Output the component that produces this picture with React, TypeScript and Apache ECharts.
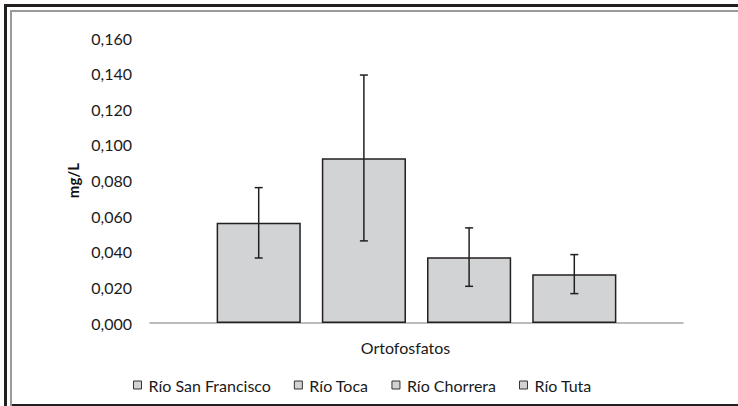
import React, { useEffect, useRef } from "react";
import * as echarts from "echarts";

const categories = ["Ortofosfatos"];
const seriesNames = ["Río San Francisco", "Río Toca", "Río Chorrera", "Río Tuta"];
const means = [0.0563, 0.0925, 0.0369, 0.0274];
const errLow = [0.0365, 0.0461, 0.0206, 0.0165];
const errHigh = [0.076, 0.1392, 0.0534, 0.0384];
const yTicks = { min: 0, max: 0.16, interval: 0.02 };

const FONT = "Lato";
const BAR_GAP = 0.25;
const CAT_GAP = 0.25;

export default function App() {
  const ref = useRef<HTMLDivElement>(null);
  useEffect(() => {
    if (!ref.current) return;
    const chart = echarts.init(ref.current, null, { renderer: "svg" });
    const n = seriesNames.length;
    const barSeries = seriesNames.map((name, i) => ({
      name,
      type: "bar",
      data: [means[i]],
      barGap: `${BAR_GAP * 100}%`,
      barCategoryGap: `${CAT_GAP * 100}%`,
      itemStyle: { color: "#d1d3d4", borderColor: "#231f20", borderWidth: 1.5 },
    }));
    const errData = seriesNames.map((_, i) => [0, errLow[i], errHigh[i], i]);
    const option: any = {
      animation: false,
      textStyle: { fontFamily: FONT },
      grid: { left: 150, right: 55, top: 38, bottom: 83 },
      legend: {
        data: seriesNames,
        left: 128,
        top: 372,
        icon: "rect",
        itemWidth: 8,
        itemHeight: 8,
        itemGap: 23,
        itemStyle: { color: "#d1d3d4", borderColor: "#333", borderWidth: 1 },
        textStyle: { fontFamily: FONT, fontSize: 16, color: "#1a1a1a", padding: [0, 0, 0, 2] },
      },
      xAxis: {
        type: "category",
        data: categories,
        axisLine: { lineStyle: { color: "#a6a6a6", width: 1.5 } },
        axisTick: { show: false },
        axisLabel: { fontFamily: FONT, fontSize: 16, color: "#1a1a1a", margin: 16, padding: [0, 22, 0, 0] },
      },
      yAxis: {
        type: "value",
        min: yTicks.min,
        max: yTicks.max,
        interval: yTicks.interval,
        name: "mg/L",
        nameLocation: "middle",
        nameGap: 67,
        nameTextStyle: { fontFamily: FONT, fontSize: 15, fontWeight: "bold", color: "#111" },
        axisLine: { show: false },
        axisTick: { show: false },
        splitLine: { show: false },
        axisLabel: {
          fontFamily: FONT,
          fontSize: 16,
          color: "#1a1a1a",
          margin: 18,
          formatter: (v: number) => v.toFixed(3).replace(".", ","),
        },
      },
      series: [
        ...barSeries,
        {
          type: "custom",
          name: "err",
          data: errData,
          z: 10,
          renderItem: (params: any, api: any) => {
            const cat = api.value(0);
            const lo = api.coord([cat, api.value(1)]);
            const hi = api.coord([cat, api.value(2)]);
            const idx = api.value(3);
            const band = api.size([1, 0])[0];
            const w = (band * (1 - CAT_GAP)) / (n + (n - 1) * BAR_GAP);
            const x = lo[0] + (idx - (n - 1) / 2) * w * (1 + BAR_GAP);
            const cap = 4;
            const style = { stroke: "#231f20", lineWidth: 1.5 };
            return {
              type: "group",
              children: [
                { type: "line", shape: { x1: x, y1: hi[1], x2: x, y2: lo[1] }, style },
                { type: "line", shape: { x1: x - cap, y1: hi[1], x2: x + cap, y2: hi[1] }, style },
                { type: "line", shape: { x1: x - cap, y1: lo[1], x2: x + cap, y2: lo[1] }, style },
              ],
            };
          },
        },
      ],
      graphic: [
        { type: "rect", shape: { x: 4, y: 4, width: 3, height: 402 }, style: { fill: "#231f20" } },
        { type: "rect", shape: { x: 4, y: 4, width: 734, height: 3 }, style: { fill: "#231f20" } },
        { type: "rect", shape: { x: 10, y: 10, width: 2, height: 396 }, style: { fill: "#9a9a9a" } },
        { type: "rect", shape: { x: 10, y: 10, width: 728, height: 2 }, style: { fill: "#9a9a9a" } },
        { type: "rect", shape: { x: 12, y: 404, width: 726, height: 2 }, style: { fill: "#231f20" } },
      ],
    };
    chart.setOption(option);
    return () => chart.dispose();
  }, []);
  return (
    <div
      ref={ref}
      style={{ position: "absolute", left: 0, top: 0, width: 738, height: 406, background: "#fff" }}
    />
  );
}
